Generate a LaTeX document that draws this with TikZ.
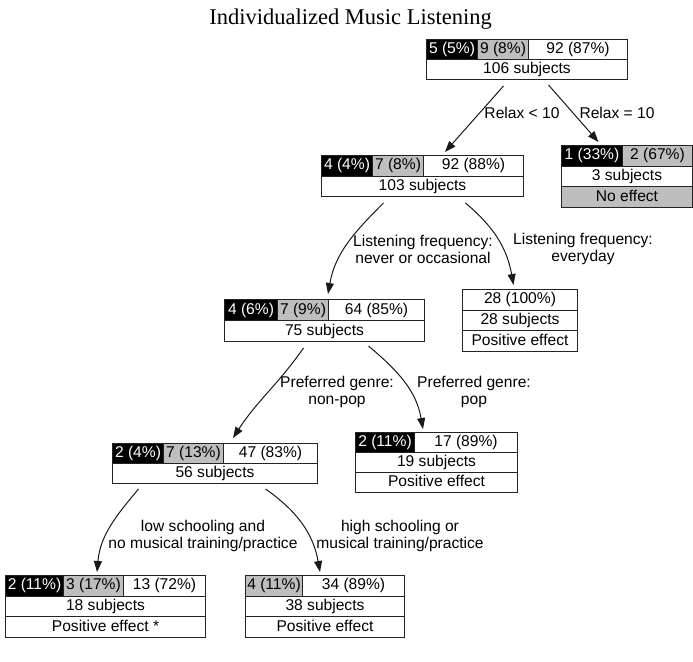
\documentclass[tikz,border=0pt]{standalone}
\usepackage{fontspec}
\setmainfont{Liberation Sans}
\newfontfamily\titlefont{Liberation Serif}
\usetikzlibrary{arrows.meta}
\definecolor{cellgray}{RGB}{190,190,190}
\definecolor{edge}{RGB}{35,35,35}
\tikzset{
  cell/.style={draw=edge, line width=1pt, inner sep=0pt, anchor=north west,
    font=\fontsize{15.6}{17}\selectfont, text height=11.3pt, text depth=3.3pt},
  blk/.style={fill=black, text=white},
  gry/.style={fill=cellgray, text=black},
  wht/.style={fill=white, text=black},
  conn/.style={draw=black!90, line width=1pt, -{Triangle[length=11pt,width=8pt]}},
  lbl/.style={font=\fontsize{15.6}{17}\selectfont, text=black, align=center, inner sep=0pt}
}
\newcommand\cellat[7]{\node[cell,#6,minimum width=#4pt,minimum height=#5pt] (#1) at (#2,#3) {#7};}
\begin{document}
\begin{tikzpicture}[x=1pt,y=-1pt]
\useasboundingbox (0,0) rectangle (693,661);
\node[anchor=base, font=\titlefont\fontsize{22.5}{24}\selectfont, inner sep=0pt] (title) at (350.5,25) {Individualized Music Listening};

% root
\cellat{r1a}{426}{39}{51}{20}{blk}{5 (5\%)}
\cellat{r1b}{477}{39}{51}{20}{gry}{9 (8\%)}
\cellat{r1c}{528}{39}{99}{20}{wht}{92 (87\%)}
\cellat{r1n}{426}{59}{201}{20}{wht}{106 subjects}

% relax = 10
\cellat{rxa}{561}{145}{61}{20.7}{blk}{1 (33\%)}
\cellat{rxb}{622}{145}{70}{20.7}{gry}{2 (67\%)}
\cellat{rxn}{561}{165.7}{131}{20.7}{wht}{3 subjects}
\cellat{rxe}{561}{186.4}{131}{20.7}{gry}{No effect}

% box 2
\cellat{b2a}{321}{155}{51}{20.5}{blk}{4 (4\%)}
\cellat{b2b}{372}{155}{51}{20.5}{gry}{7 (8\%)}
\cellat{b2c}{423}{155}{100}{20.5}{wht}{92 (88\%)}
\cellat{b2n}{321}{175.5}{202}{20.5}{wht}{103 subjects}

% box 3
\cellat{b3a}{224}{299}{53}{21}{blk}{4 (6\%)}
\cellat{b3b}{277}{299}{51}{21}{gry}{7 (9\%)}
\cellat{b3c}{328}{299}{96}{21}{wht}{64 (85\%)}
\cellat{b3n}{224}{320}{200}{21}{wht}{75 subjects}

% box 28
\cellat{b28a}{462}{289}{115}{20.7}{wht}{28 (100\%)}
\cellat{b28n}{462}{309.7}{115}{20.7}{wht}{28 subjects}
\cellat{b28e}{462}{330.4}{115}{20.7}{wht}{Positive effect}

% box 19
\cellat{b19a}{355}{432}{59}{20}{blk}{2 (11\%)}
\cellat{b19b}{414}{432}{103}{20}{wht}{17 (89\%)}
\cellat{b19n}{355}{452}{162}{20}{wht}{19 subjects}
\cellat{b19e}{355}{472}{162}{20}{wht}{Positive effect}

% box 56
\cellat{b56a}{112}{443}{51}{20}{blk}{2 (4\%)}
\cellat{b56b}{163}{443}{60}{20}{gry}{7 (13\%)}
\cellat{b56c}{223}{443}{94}{20}{wht}{47 (83\%)}
\cellat{b56n}{112}{463}{205}{20}{wht}{56 subjects}

% box 18
\cellat{b18a}{5}{575}{58}{20.7}{blk}{2 (11\%)}
\cellat{b18b}{63}{575}{60}{20.7}{gry}{3 (17\%)}
\cellat{b18c}{123}{575}{82}{20.7}{wht}{13 (72\%)}
\cellat{b18n}{5}{595.7}{200}{20.7}{wht}{18 subjects}
\cellat{b18e}{5}{616.4}{200}{20.7}{wht}{Positive effect *}

% box 38
\cellat{b38a}{245}{575}{57}{20.7}{gry}{4 (11\%)}
\cellat{b38b}{302}{575}{102}{20.7}{wht}{34 (89\%)}
\cellat{b38n}{245}{595.7}{159}{20.7}{wht}{38 subjects}
\cellat{b38e}{245}{616.4}{159}{20.7}{wht}{Positive effect}

% connectors
\draw[conn] ([xshift=-23.5pt,yshift=-6pt]r1n.south) -- ([xshift=22pt,yshift=3pt]b2c.north west);
\draw[conn] ([xshift=21.5pt,yshift=-5pt]r1n.south) -- ([xshift=6.5pt,yshift=3pt]rxa.north);
\draw[conn] ([xshift=-39pt,yshift=-6pt]b2n.south) to[out=-135,in=80] ([yshift=5pt]b3c.north west);
\draw[conn] ([xshift=43pt,yshift=-6pt]b2n.south) to[out=-40,in=100] ([xshift=-6.5pt,yshift=4pt]b28a.north);
\draw[conn] ([xshift=-21pt,yshift=-6pt]b3n.south) to[out=-125,in=57] ([xshift=10pt,yshift=5pt]b56c.north west);
\draw[conn] ([xshift=44pt,yshift=-4pt]b3n.south) to[out=-40,in=100] ([xshift=9pt,yshift=3pt]b19b.north west);
\draw[conn] ([xshift=-76.5pt,yshift=-5pt]b56n.south) to[out=-130,in=85] ([xshift=34pt,yshift=3pt]b18b.north west);
\draw[conn] ([xshift=50.5pt,yshift=-5pt]b56n.south) to[out=-35,in=100] ([xshift=18pt,yshift=3pt]b38b.north west);

% labels
\node[lbl] (l1) at (522,113) {Relax < 10};
\node[lbl] (l2) at (617,113) {Relax = 10};
\node[lbl] (l3) at (423,249) {Listening frequency:\\never or occasional};
\node[lbl] (l4) at (583,249) {Listening frequency:\\everyday};
\node[lbl] (l5) at (337,392) {Preferred genre:\\non-pop};
\node[lbl] (l6) at (474,392) {Preferred genre:\\pop};
\node[lbl] (l7) at (203,536) {low schooling and\\no musical training/practice};
\node[lbl] (l8) at (400,536) {high schooling or\\musical training/practice};
\end{tikzpicture}
\end{document}
